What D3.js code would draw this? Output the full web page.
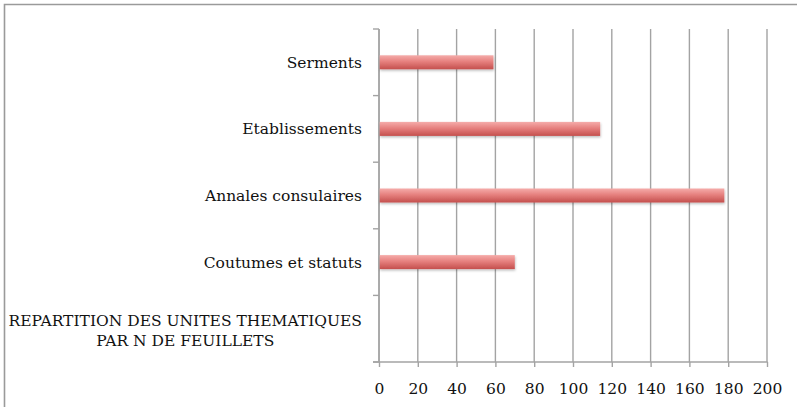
<!DOCTYPE html>
<html>
<head>
<meta charset="utf-8">
<script src="https://cdn.jsdelivr.net/npm/d3@7"></script>
<style>
  html, body { margin: 0; padding: 0; background: #fff; }
  svg text { font-family: "DejaVu Serif", serif; fill: #111; }
</style>
</head>
<body>
<div id="graph"></div>
<script>
// categories from bottom to top, as in the picture
const categories = [
    "REPARTITION DES UNITES THEMATIQUES|PAR N DE FEUILLETS",
    "Coutumes et statuts",
    "Annales consulaires",
    "Etablissements",
    "Serments"
];
const values = [null, 70, 178, 114, 59];
const xTicks = [0, 20, 40, 60, 80, 100, 120, 140, 160, 180, 200];

const W = 797, H = 407;
const margin = {top: 29, right: 30, bottom: 45, left: 379};
const width = 767 - margin.left;
const height = 362 - margin.top;

const svg = d3.select('#graph')
    .append('svg')
    .attr('width', W)
    .attr('height', H);

// gradient + shadow for the bars
const defs = svg.append('defs');
const grad = defs.append('linearGradient')
    .attr('id', 'barGrad')
    .attr('x1', 0).attr('y1', 0).attr('x2', 0).attr('y2', 1);
grad.append('stop').attr('offset', '0%').attr('stop-color', '#f5acaa');
grad.append('stop').attr('offset', '45%').attr('stop-color', '#e6807e');
grad.append('stop').attr('offset', '100%').attr('stop-color', '#c44f4d');

const shadow = defs.append('filter').attr('id', 'barShadow')
    .attr('x', '-5%').attr('y', '-30%').attr('width', '110%').attr('height', '180%');
shadow.append('feDropShadow')
    .attr('dx', 0.5).attr('dy', 1.5).attr('stdDeviation', 1.2)
    .attr('flood-color', '#000').attr('flood-opacity', 0.25);

// outer frame (only top and left edges visible)
svg.append('path')
    .attr('d', `M4.5,${H} L4.5,4.5 L${W},4.5`)
    .attr('fill', 'none')
    .attr('stroke', '#9a9a9a')
    .attr('stroke-width', 1.6);

const g = svg.append('g')
    .attr('transform', `translate(${margin.left},${margin.top})`);

const xScale = d3.scaleLinear()
    .domain([0, 200])
    .range([0, width]);

const yScale = d3.scaleBand()
    .domain(categories.slice().reverse())
    .range([0, height]);

// vertical gridlines
g.append('g')
    .selectAll('line')
    .data(xTicks)
    .enter()
    .append('line')
    .attr('x1', d => xScale(d)).attr('x2', d => xScale(d))
    .attr('y1', 0).attr('y2', height)
    .attr('stroke', '#a3a3a3')
    .attr('stroke-width', 1.4);

// bottom axis
const xAxis = g.append('g')
    .attr('transform', `translate(0,${height})`)
    .call(d3.axisBottom(xScale).tickValues(xTicks).tickSize(5).tickSizeOuter(0).tickPadding(16));
xAxis.select('.domain').remove();
xAxis.selectAll('.tick line').attr('stroke', '#a3a3a3').attr('stroke-width', 1.4);
xAxis.selectAll('.tick text')
    .style('font-family', '"DejaVu Serif", serif')
    .style('font-size', '15.5px')
    .attr('fill', '#111');
xAxis.append('line')
    .attr('x1', -6).attr('x2', width + 0.5)
    .attr('y1', 0).attr('y2', 0)
    .attr('stroke', '#a3a3a3')
    .attr('stroke-width', 1.4);

// left axis with ticks on band boundaries
const yAx = g.append('g');
yAx.append('line')
    .attr('x1', 0).attr('x2', 0)
    .attr('y1', 0).attr('y2', height)
    .attr('stroke', '#a3a3a3')
    .attr('stroke-width', 1.4);
yAx.selectAll('line.btick')
    .data(d3.range(categories.length + 1))
    .enter()
    .append('line')
    .attr('class', 'btick')
    .attr('x1', -6).attr('x2', 0)
    .attr('y1', i => i * yScale.step()).attr('y2', i => i * yScale.step())
    .attr('stroke', '#a3a3a3')
    .attr('stroke-width', 1.4);

// bars
const barH = 14;
g.append('g')
    .selectAll('rect')
    .data(categories.map((c, i) => ({cat: c, value: values[i]})).filter(d => d.value != null))
    .enter()
    .append('rect')
    .attr('x', xScale(0) + 0.7)
    .attr('y', d => yScale(d.cat) + yScale.bandwidth() / 2 - barH / 2)
    .attr('width', d => xScale(d.value) - xScale(0) - 0.7)
    .attr('height', barH)
    .attr('fill', 'url(#barGrad)')
    .attr('filter', 'url(#barShadow)');

// category labels (wrapped lines centered within a right-aligned block)
const labelRight = -17;
const lineH = 20.5;
categories.forEach(c => {
    const lines = c.split('|');
    const cy = yScale(c) + yScale.bandwidth() / 2 + (lines.length > 1 ? 2.5 : 0.5);
    const t = g.append('text')
        .style('font-size', '15.5px')
        .attr('dominant-baseline', 'central');
    lines.forEach((ln, i) => {
        t.append('tspan')
            .attr('y', cy + (i - (lines.length - 1) / 2) * lineH)
            .text(ln);
    });
    const widths = t.selectAll('tspan').nodes().map(n => n.getComputedTextLength());
    const maxW = d3.max(widths);
    t.attr('text-anchor', 'middle');
    t.selectAll('tspan').attr('x', labelRight - maxW / 2);
});
</script>
</body>
</html>
